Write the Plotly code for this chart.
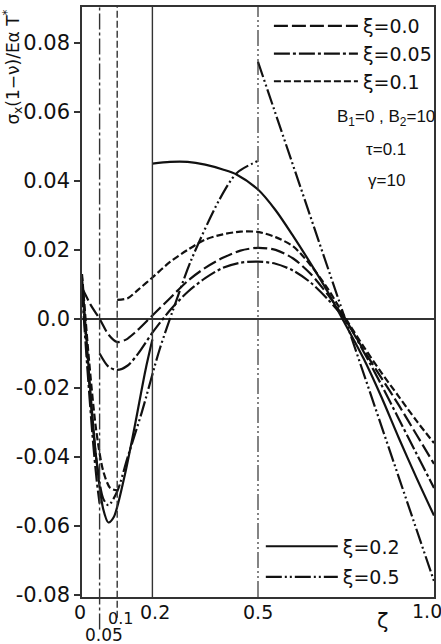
import plotly.graph_objects as go

# ---------------- data ----------------
xi_values = [0.0, 0.05, 0.1, 0.2, 0.5]
xi_labels = ["ξ=0.0", "ξ=0.05", "ξ=0.1", "ξ=0.2", "ξ=0.5"]

# xi = 0.0 (continuous)
zeta_xi00 = [0.0, 0.025, 0.05, 0.075, 0.1, 0.125, 0.15, 0.2, 0.25, 0.3, 0.35, 0.4, 0.45, 0.5,
             0.55, 0.6, 0.65, 0.7, 0.75, 0.8, 0.85, 0.9, 0.95, 1.0]
sig_xi00 = [0.009, 0.004, 0.0, -0.0045, -0.0067, -0.006, -0.004, 0.001, 0.006, 0.011, 0.0148,
            0.0177, 0.0198, 0.0206, 0.020, 0.0175, 0.013, 0.0068, -0.0005, -0.009, -0.017,
            -0.025, -0.0335, -0.042]

# xi = 0.05 (jump at 0.05)
zeta_xi05_left = [0.0, 0.015, 0.03, 0.042, 0.05]
sig_xi05_left = [0.008, -0.014, -0.034, -0.047, -0.0535]
zeta_xi05_right = [0.05, 0.075, 0.1, 0.13, 0.16, 0.2, 0.25, 0.3, 0.35, 0.4, 0.45, 0.5, 0.55,
                   0.6, 0.65, 0.7, 0.75, 0.8, 0.85, 0.9, 0.95, 1.0]
sig_xi05_right = [-0.010, -0.0138, -0.0148, -0.0135, -0.010, -0.004, 0.0025, 0.0078, 0.0118,
                  0.0148, 0.0163, 0.0166, 0.016, 0.014, 0.0105, 0.0055, -0.0005, -0.0095,
                  -0.019, -0.029, -0.039, -0.049]

# xi = 0.1 (jump at 0.1)
zeta_xi10_left = [0.0, 0.02, 0.04, 0.06, 0.08, 0.1]
sig_xi10_left = [0.013, -0.012, -0.032, -0.044, -0.049, -0.0497]
zeta_xi10_right = [0.1, 0.13, 0.16, 0.2, 0.25, 0.3, 0.35, 0.4, 0.45, 0.5, 0.55, 0.6, 0.65,
                   0.7, 0.75, 0.8, 0.85, 0.9, 0.95, 1.0]
sig_xi10_right = [0.0055, 0.006, 0.0085, 0.012, 0.0165, 0.020, 0.023, 0.0245, 0.0253, 0.0252,
                  0.0237, 0.021, 0.0155, 0.0085, 0.0, -0.008, -0.0155, -0.0225, -0.0295,
                  -0.036]

# xi = 0.2 (jump at 0.2)
zeta_xi20_left = [0.0, 0.02, 0.04, 0.06, 0.075, 0.09, 0.12, 0.15, 0.18, 0.2]
sig_xi20_left = [0.012, -0.016, -0.040, -0.055, -0.059, -0.0575, -0.046, -0.031, -0.015, -0.006]
zeta_xi20_right = [0.2, 0.25, 0.3, 0.35, 0.4, 0.44, 0.5, 0.55, 0.6, 0.656, 0.7, 0.74, 0.8,
                   0.85, 0.9, 0.95, 1.0]
sig_xi20_right = [0.045, 0.0455, 0.0455, 0.0447, 0.0433, 0.0418, 0.0375, 0.0315, 0.024, 0.015,
                  0.0075, 0.0, -0.0115, -0.0225, -0.0345, -0.046, -0.057]

# xi = 0.5 (jump at 0.5)
zeta_xi50_left = [0.0, 0.02, 0.04, 0.06, 0.075, 0.1, 0.13, 0.17, 0.22, 0.26, 0.31, 0.39,
                  0.44, 0.5]
sig_xi50_left = [0.010, -0.018, -0.040, -0.052, -0.054, -0.050, -0.040, -0.027, -0.009,
                 0.003, 0.017, 0.0345, 0.0423, 0.0458]
zeta_xi50_right = [0.5, 1.0]
sig_xi50_right = [0.0745, -0.076]

ytick_vals = [-0.08, -0.06, -0.04, -0.02, 0.0, 0.02, 0.04, 0.06, 0.08]
ytick_text = ["-0.08", "-0.06", "-0.04", "-0.02", "0.0", "0.02", "0.04", "0.06", "0.08"]
xtick_vals = [0.0, 0.05, 0.1, 0.2, 0.5, 1.0]
xtick_text = ["0", "0.05", "0.1", "0.2", "0.5", "1.0"]
param_lines = ["B<sub>1</sub>=0 , B<sub>2</sub>=10", "τ=0.1", "γ=10"]

# ---------------- figure ----------------
INK = "#111111"
FONT = "DejaVu Sans"
FONT_NARROW = "Liberation Sans"

dash_styles = {
    0.0: "14px,4px",
    0.05: "16px,3px,3px,3px",
    0.1: "7px,3px",
    0.2: "solid",
    0.5: "16px,3px,2px,3px,2px,3px",
}


def joined(segments):
    xs, ys = [], []
    for i, (zx, sy) in enumerate(segments):
        if i:
            xs.append(None)
            ys.append(None)
        xs += zx
        ys += sy
    return xs, ys


series = [
    [(zeta_xi00, sig_xi00)],
    [(zeta_xi05_left, sig_xi05_left), (zeta_xi05_right, sig_xi05_right)],
    [(zeta_xi10_left, sig_xi10_left), (zeta_xi10_right, sig_xi10_right)],
    [(zeta_xi20_left, sig_xi20_left), (zeta_xi20_right, sig_xi20_right)],
    [(zeta_xi50_left, sig_xi50_left), (zeta_xi50_right, sig_xi50_right)],
]

fig = go.Figure()
for xi, label, segs in zip(xi_values, xi_labels, series):
    xs, ys = joined(segs)
    fig.add_trace(go.Scatter(
        x=xs, y=ys, mode="lines", name=label,
        line=dict(color=INK, width=2.2, dash=dash_styles[xi], shape="spline", smoothing=0.8),
        connectgaps=False,
        legend="legend" if xi < 0.15 else "legend2",
        legendgroup=label,
    ))

# vertical lines at each xi
ext = {0.05: -0.055, 0.1: -0.035}
for xi in xi_values:
    if xi == 0.0:
        continue
    fig.add_shape(type="line", xref="x", yref="paper", x0=xi, x1=xi,
                  y0=ext.get(xi, 0.0), y1=1.0,
                  line=dict(color="#333333", width=1.4 if xi != 0.5 else 1.2,
                            dash=dash_styles[xi] if xi != 0.2 else "solid"))

# x tick labels as annotations
x_lab_dy = {0.0: -15, 0.05: -38, 0.1: -21, 0.2: -15, 0.5: -15, 1.0: -14}
x_lab_dx = {0.0: -2, 0.05: 4, 0.1: 3, 0.2: 3, 0.5: 0, 1.0: -7}
x_lab_size = {0.0: 19, 0.05: 17, 0.1: 16, 0.2: 19, 0.5: 19, 1.0: 19}
for v, t in zip(xtick_vals, xtick_text):
    fig.add_annotation(x=v, y=0, xref="x", yref="paper", text=t, showarrow=False,
                       xshift=x_lab_dx[v], yshift=x_lab_dy[v], yanchor="middle",
                       font=dict(family=FONT, size=x_lab_size[v], color=INK))
fig.add_annotation(x=0.75, y=0, xref="x", yref="paper", text="ζ", showarrow=False,
                   xshift=36, yshift=-38, font=dict(family=FONT, size=21, color=INK))

# y axis title
fig.add_annotation(x=0, y=1, xref="paper", yref="paper", xanchor="center", yanchor="top",
                   xshift=-69, yshift=-1, textangle=-90, showarrow=False,
                   text="σ<sub>x</sub>(1−ν)/Eα T<sup>*</sup>",
                   font=dict(family=FONT, size=17, color=INK))

# parameter text
for i, t in enumerate(param_lines):
    fig.add_annotation(x=0.865, y=0.82, xref="paper", yref="paper", text=t, showarrow=False,
                       xanchor="center", yanchor="middle",
                       yshift=-5 - 31 * i, font=dict(family=FONT_NARROW, size=17, color=INK))

fig.update_layout(
    width=441, height=644,
    margin=dict(l=82, r=7, t=7, b=47, autoexpand=False),
    paper_bgcolor="white", plot_bgcolor="white",
    font=dict(family=FONT, color=INK),
    legend=dict(x=0.531, y=1.0, xanchor="left", yanchor="top", bgcolor="rgba(0,0,0,0)",
                font=dict(family=FONT, size=19, color=INK), itemwidth=84,
                tracegroupgap=0),
    legend2=dict(x=0.508, y=0.118, xanchor="left", yanchor="top", bgcolor="rgba(0,0,0,0)",
                 font=dict(family=FONT, size=19, color=INK), itemwidth=72,
                 tracegroupgap=3),
    showlegend=True,
)
fig.update_xaxes(range=[0, 1], showgrid=False, zeroline=False, showticklabels=False,
                 ticks="", showline=True, linecolor="#333333", linewidth=1.5, mirror=True)
fig.update_yaxes(range=[-0.0806, 0.0904], showgrid=False, zeroline=True,
                 zerolinecolor="#333333", zerolinewidth=1.5,
                 tickvals=ytick_vals, ticktext=ytick_text, ticks="outside", ticklen=6,
                 tickcolor="#333333", tickwidth=1.5,
                 tickfont=dict(family=FONT, size=21, color=INK),
                 showline=True, linecolor="#333333", linewidth=1.5, mirror=True)

fig.write_html("out.html")
